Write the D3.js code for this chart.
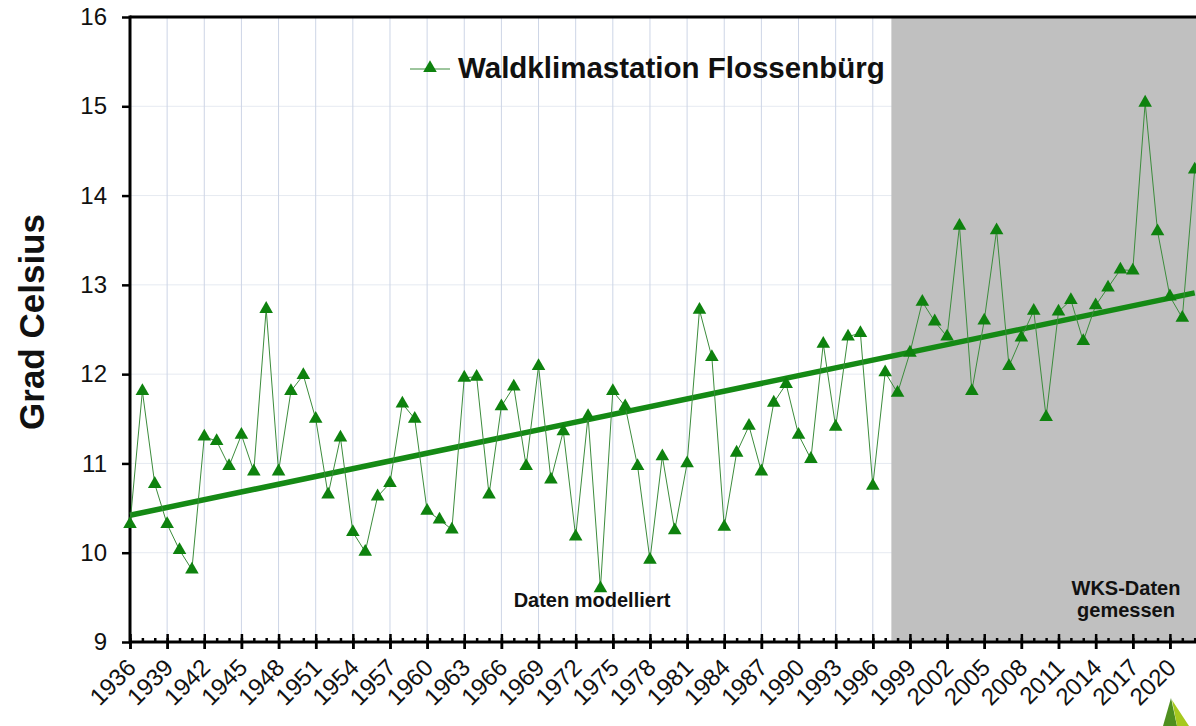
<!DOCTYPE html>
<meta charset="utf-8">
<script src="https://cdn.jsdelivr.net/npm/d3@7"></script>
<style>
    body { margin: 0; background: #fff; }
    svg text { font-family: "Liberation Sans", Arial, sans-serif; fill: #111; }
</style>
<svg id="chart" width="1196" height="726"></svg>
<script>
    // Jahresmitteltemperatur, Waldklimastation Flossenbürg (1936-2022)
    var firstYear = 1936;
    var temps = [
        10.32, 11.81, 10.77, 10.32, 10.03, 9.81, 11.30, 11.25, 10.97, 11.32,
        10.91, 12.73, 10.91, 11.81, 11.99, 11.50, 10.65, 11.29, 10.23, 10.01,
        10.63, 10.78, 11.67, 11.50, 10.47, 10.37, 10.26, 11.96, 11.97, 10.65,
        11.64, 11.86, 10.97, 12.09, 10.82, 11.36, 10.18, 11.53, 9.60, 11.81,
        11.64, 10.97, 9.92, 11.08, 10.25, 11.00, 12.72, 12.19, 10.29, 11.12,
        11.42, 10.91, 11.68, 11.89, 11.32, 11.05, 12.34, 11.41, 12.42, 12.46,
        10.75, 12.02, 11.79, 12.24, 12.81, 12.59, 12.42, 13.66, 11.81, 12.60,
        13.61, 12.09, 12.41, 12.71, 11.52, 12.70, 12.83, 12.37, 12.77, 12.97,
        13.17, 13.16, 15.04, 13.60, 12.87, 12.63, 14.29
    ];
    var trendYears = [1936, 2022];
    var trendValues = [10.42, 12.91];
    var yTicks = [9, 10, 11, 12, 13, 14, 15, 16];
    var labelYears = d3.range(1936, 2021, 3);
    var majorYears = d3.range(1936, 2024, 3);
    var minorYears = d3.range(1936, 2024, 1);
    var measuredFrom = 1997.5;

    var data = temps.map(function(v, i) { return { year: firstYear + i, value: v }; });
    var trend = trendYears.map(function(yr, i) { return { year: yr, value: trendValues[i] }; });

    var svg = d3.select("#chart"),
        W = +svg.attr("width"),
        plotLeft = 130, plotTop = 17, plotBottom = 642;

    var x = d3.scaleLinear().domain([1936, 2022]).range([plotLeft, plotLeft + 86 * 12.38]);
    var y = d3.scaleLinear().domain([9, 16]).range([plotBottom, plotTop]);

    // gridlines
    svg.append("g").selectAll("line").data(yTicks.slice(1)).join("line")
        .attr("x1", plotLeft).attr("x2", W)
        .attr("y1", function(d) { return y(d); }).attr("y2", function(d) { return y(d); })
        .attr("stroke", "#e6eaf1").attr("stroke-width", 1);
    svg.append("g").selectAll("line").data(majorYears.slice(1)).join("line")
        .attr("x1", function(d) { return x(d); }).attr("x2", function(d) { return x(d); })
        .attr("y1", plotTop).attr("y2", plotBottom)
        .attr("stroke", "#cdd5e6").attr("stroke-width", 1);

    // measured period
    svg.append("rect")
        .attr("x", x(measuredFrom)).attr("y", plotTop)
        .attr("width", W - x(measuredFrom)).attr("height", plotBottom - plotTop)
        .attr("fill", "#c0c0c0");

    // axes
    var xLabels = svg.append("g")
        .attr("transform", "translate(0," + plotBottom + ")")
        .call(d3.axisBottom(x).tickValues(labelYears).tickFormat(d3.format("d")).tickSize(7));
    svg.append("g")
        .attr("transform", "translate(0," + plotBottom + ")")
        .call(d3.axisBottom(x).tickValues(majorYears).tickFormat("").tickSize(7));
    svg.append("g")
        .attr("transform", "translate(0," + plotBottom + ")")
        .call(d3.axisTop(x).tickValues(majorYears).tickFormat("").tickSize(8));
    svg.append("g")
        .attr("transform", "translate(0," + plotBottom + ")")
        .call(d3.axisTop(x).tickValues(minorYears).tickFormat("").tickSize(4));

    xLabels.attr("font-size", 24).attr("font-family", null);
    xLabels.selectAll("text")
        .attr("y", 0).attr("dy", 0).attr("x", 0)
        .attr("text-anchor", "end")
        .attr("transform", "translate(7,27) rotate(-45)");

    var yAxis = svg.append("g")
        .attr("transform", "translate(" + plotLeft + ",0)")
        .call(d3.axisLeft(y).tickValues(yTicks).tickFormat(d3.format("d")).tickSize(8).tickPadding(15));
    yAxis.attr("font-size", 24).attr("font-family", null);

    svg.selectAll(".domain").remove();
    svg.selectAll(".tick line").attr("stroke", "#000").attr("stroke-width", 2.5);

    var frame = svg.append("g").attr("stroke", "#000").attr("stroke-width", 3);
    frame.append("line").attr("x1", plotLeft).attr("x2", W).attr("y1", plotBottom).attr("y2", plotBottom);
    frame.append("line").attr("x1", plotLeft).attr("x2", W).attr("y1", plotTop).attr("y2", plotTop);
    frame.append("line").attr("x1", plotLeft).attr("x2", plotLeft).attr("y1", plotTop - 1.5).attr("y2", plotBottom + 1.5);

    svg.append("text")
        .attr("transform", "translate(44,322) rotate(-90)")
        .attr("text-anchor", "middle")
        .style("font-size", "35px").style("font-weight", "bold")
        .text("Grad Celsius");

    // series
    var line = d3.line()
        .x(function(d) { return x(d.year); })
        .y(function(d) { return y(d.value); });

    svg.append("path")
        .datum(trend)
        .attr("fill", "none")
        .attr("stroke", "#158a15")
        .attr("stroke-width", 5.5)
        .attr("d", line);

    svg.append("path")
        .datum(data)
        .attr("fill", "none")
        .attr("stroke", "#3c8c3c")
        .attr("stroke-width", 1)
        .attr("d", line);

    var tri = d3.symbol().type(d3.symbolTriangle).size(80);
    svg.append("g").selectAll("path").data(data).join("path")
        .attr("d", tri)
        .attr("transform", function(d) { return "translate(" + x(d.year) + "," + y(d.value) + ")"; })
        .attr("fill", "#0e820e");

    // legend
    svg.append("line").attr("x1", 410).attr("x2", 450).attr("y1", 69).attr("y2", 69)
        .attr("stroke", "#3c8c3c").attr("stroke-width", 1);
    svg.append("path").attr("d", tri).attr("transform", "translate(430,68)").attr("fill", "#0e820e");
    svg.append("text").attr("x", 458).attr("y", 78)
        .style("font-size", "29.5px").style("font-weight", "bold")
        .text("Waldklimastation Flossenbürg");

    // annotations
    svg.append("text").attr("x", 592).attr("y", 607)
        .attr("text-anchor", "middle")
        .style("font-size", "20px").style("font-weight", "bold")
        .text("Daten modelliert");
    var wks = svg.append("text").attr("text-anchor", "middle")
        .style("font-size", "20px").style("font-weight", "bold");
    wks.append("tspan").attr("x", 1126).attr("y", 595).text("WKS-Daten");
    wks.append("tspan").attr("x", 1126).attr("y", 617).text("gemessen");

    // logo corner
    svg.append("path").attr("d", "M1163,726L1171,698L1177,726Z").attr("fill", "#4f8f1f");
    svg.append("path").attr("d", "M1177,726L1172,700L1189,726Z").attr("fill", "#a6c91e");
</script>
